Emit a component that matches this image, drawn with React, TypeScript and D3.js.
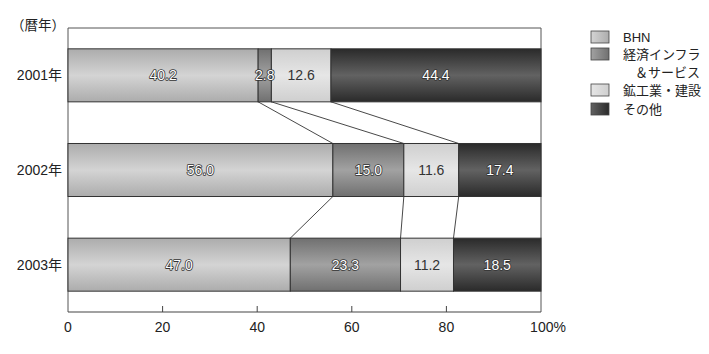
import React from "react";
import { scaleLinear, scaleBand } from "d3";

// data (percent shares per year)
const years = ["2001年", "2002年", "2003年"];
const bhn = [40.2, 56.0, 47.0];
const infra = [2.8, 15.0, 23.3];
const mining = [12.6, 11.6, 11.2];
const other = [44.4, 17.4, 18.5];
const xTicks = [0, 20, 40, 60, 80, 100];

const series = [
  { key: "bhn", name: ["BHN"], values: bhn, edge: "#acacac", mid: "#d4d4d4", dark: false },
  { key: "infra", name: ["経済インフラ", "＆サービス"], values: infra, edge: "#707070", mid: "#a2a2a2", dark: false },
  { key: "mining", name: ["鉱工業・建設"], values: mining, edge: "#cfcfcf", mid: "#e6e6e6", dark: true },
  { key: "other", name: ["その他"], values: other, edge: "#2a2a2a", mid: "#626262", dark: false },
];

const W = 709;
const H = 354;
const font = "'Liberation Sans', Arial, 'Noto Sans CJK JP', sans-serif";

export default function App() {
  const x = scaleLinear().domain([0, 100]).range([68, 541]);
  const y = scaleBand().domain(years).range([28, 312]).paddingInner(0.44).paddingOuter(0.22);
  const bw = y.bandwidth();

  // cumulative starts for each year
  const stacks = years.map((yr, i) => {
    let acc = 0;
    return series.map((s) => {
      const start = acc;
      acc += s.values[i];
      return { s, start, end: acc, v: s.values[i] };
    });
  });

  const legendRows = [37, 54, 90, 109];

  return (
    <div>
      <style>{"body{margin:0}"}</style>
      <svg width={W} height={H} style={{ display: "block", background: "#fff" }} fontFamily={font}>
        <defs>
          {series.map((s) => (
            <linearGradient key={s.key} id={"g-" + s.key} x1="0" y1="0" x2="0" y2="1">
              <stop offset="0%" stopColor={s.edge} />
              <stop offset="50%" stopColor={s.mid} />
              <stop offset="100%" stopColor={s.edge} />
            </linearGradient>
          ))}
          {series.map((s) => (
            <linearGradient key={s.key} id={"lg-" + s.key} x1="0" y1="0" x2="1" y2="0">
              <stop offset="0%" stopColor={s.mid} />
              <stop offset="100%" stopColor={s.edge} />
            </linearGradient>
          ))}
        </defs>

        {/* frame */}
        <path d={`M${x(0)},312V28H${x(100)}V312`} fill="none" stroke="#555" strokeWidth={1} />
        <line x1={x(0)} x2={x(100)} y1={312} y2={312} stroke="#444" strokeWidth={1.2} />
        {xTicks.slice(1, -1).map((t) => (
          <line key={t} x1={x(t)} x2={x(t)} y1={312} y2={306} stroke="#444" />
        ))}
        {xTicks.map((t) => (
          <text
            key={t}
            x={x(t) + (t === 100 ? 7 : 0)}
            y={332}
            textAnchor="middle"
            fontSize={14}
            fill="#222"
          >
            {t === 100 ? "100%" : t}
          </text>
        ))}

        <text x={11} y={30} fontSize={13.5} fill="#222">（暦年）</text>

        {/* connectors between bars */}
        {years.slice(0, -1).map((yr, i) =>
          stacks[i].slice(0, -1).map((seg, j) => (
            <line
              key={yr + j}
              x1={x(seg.end)}
              y1={(y(yr) as number) + bw}
              x2={x(stacks[i + 1][j].end)}
              y2={y(years[i + 1]) as number}
              stroke="#333"
              strokeWidth={0.9}
            />
          ))
        )}

        {/* bars */}
        {years.map((yr, i) => (
          <g key={yr}>
            <text x={62} y={(y(yr) as number) + bw / 2 + 5} textAnchor="end" fontSize={14} fill="#222">
              {yr}
            </text>
            {stacks[i].map((seg) => (
              <rect
                key={seg.s.key}
                x={x(seg.start)}
                y={y(yr)}
                width={x(seg.end) - x(seg.start)}
                height={bw}
                fill={`url(#g-${seg.s.key})`}
                stroke="#333"
                strokeWidth={1}
              />
            ))}
            {stacks[i].map((seg) => (
              <text
                key={seg.s.key + "t"}
                x={(x(seg.start) + x(seg.end)) / 2}
                y={(y(yr) as number) + bw / 2 + 5}
                textAnchor="middle"
                fontSize={14}
                fill={seg.s.dark ? "#333" : "#fff"}
                stroke={seg.s.dark ? "none" : "#333"}
                strokeWidth={seg.s.dark ? 0 : 1.6}
                paintOrder="stroke"
                strokeLinejoin="round"
              >
                {seg.v.toFixed(1)}
              </text>
            ))}
          </g>
        ))}

        {/* legend */}
        {series.map((s, i) => (
          <g key={s.key}>
            <rect
              x={591}
              y={legendRows[i] - 6}
              width={18}
              height={12}
              fill={`url(#lg-${s.key})`}
              stroke="#444"
              strokeWidth={0.8}
            />
            {s.name.map((ln, k) => (
              <text
                key={k}
                x={k === 0 ? 623 : 635}
                y={legendRows[i] + 5 + k * 18}
                fontSize={13}
                fill="#222"
              >
                {ln}
              </text>
            ))}
          </g>
        ))}
      </svg>
    </div>
  );
}
